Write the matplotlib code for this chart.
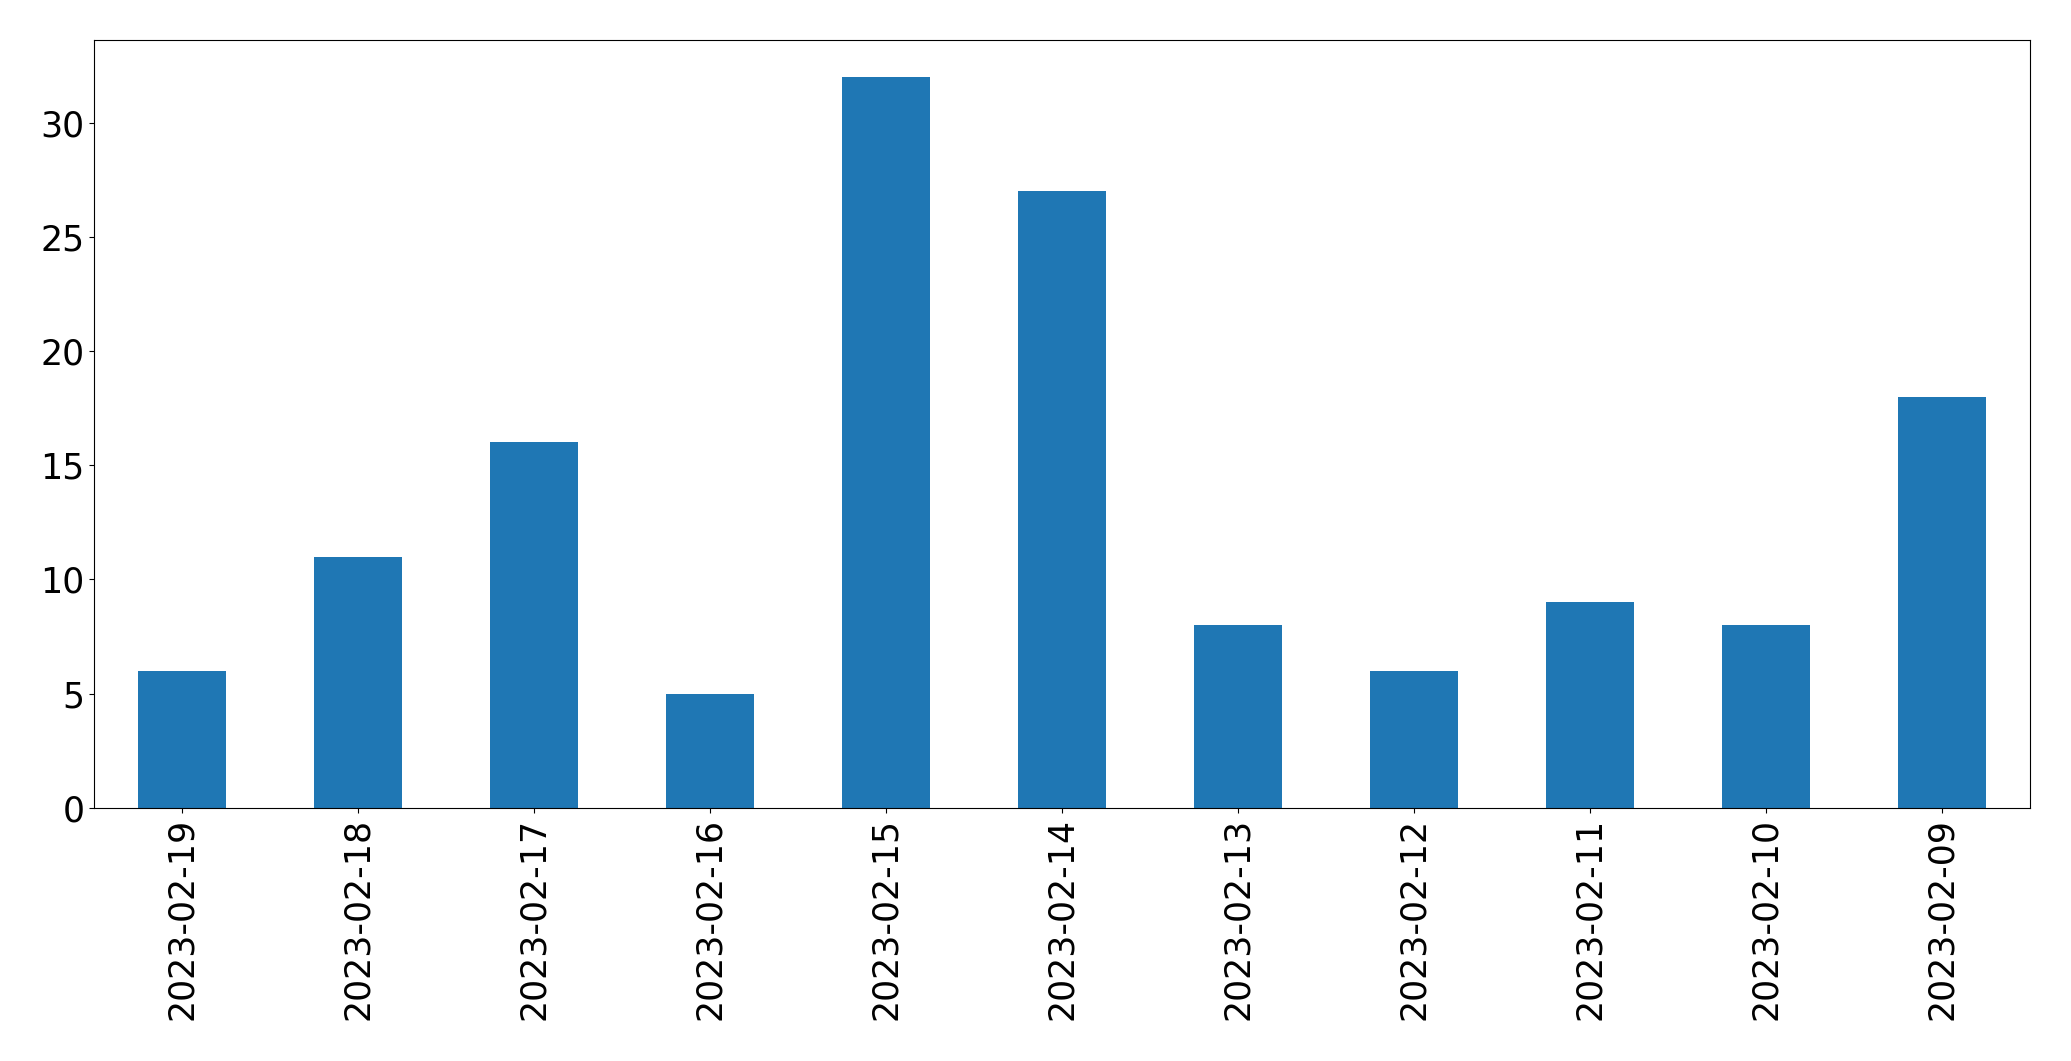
import matplotlib
matplotlib.use('Agg')
import matplotlib.pyplot as plt
import pandas as pd

# counts per day
dates = ['2023-02-19', '2023-02-18', '2023-02-17', '2023-02-16', '2023-02-15', '2023-02-14',
         '2023-02-13', '2023-02-12', '2023-02-11', '2023-02-10', '2023-02-09']
counts = [6, 11, 16, 5, 32, 27, 8, 6, 9, 8, 18]

s = pd.Series(counts, index=dates)

fig = plt.figure(figsize=(20.71, 10.61), dpi=100)
ax = fig.add_axes([0.0454, 0.2385, 0.9346, 0.7235])
s.plot(kind='bar', ax=ax, color='#1f77b4')
ax.tick_params(axis='both', labelsize=25)
plt.savefig('out.png', dpi=100)
